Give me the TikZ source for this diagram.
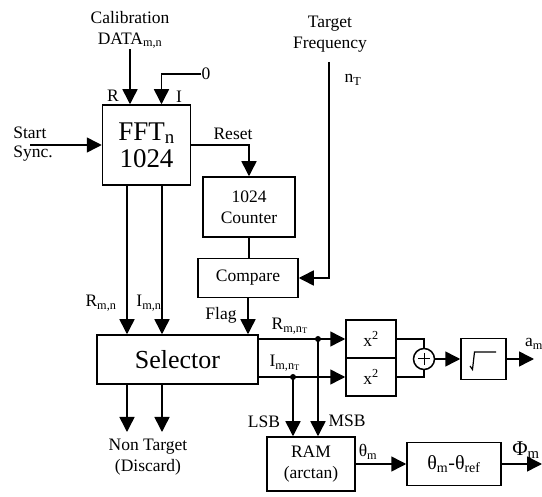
\documentclass[tikz,border=0pt]{standalone}
\usepackage{fontspec}
\setmainfont{Liberation Serif}
\usetikzlibrary{arrows.meta,calc}
\tikzset{
  blk/.style={draw, line width=1.5pt, inner sep=0pt, align=center, font=\fontsize{17.5}{21}\selectfont},
  lbl/.style={inner sep=0pt, align=center, font=\fontsize{17.5}{21}\selectfont},
  arr/.style={line width=1.5pt, -{Triangle[length=15pt,width=15pt]}},
  wire/.style={line width=1.5pt},
  dotc/.style={circle, fill, inner sep=0pt, minimum size=6pt}
}
\begin{document}
\begin{tikzpicture}[x=1pt,y=-1pt]
\useasboundingbox (0,0) rectangle (542,497);
% blocks
\node[blk, minimum width=88pt, minimum height=80pt, font=\fontsize{27}{27}\selectfont] (fft) at (146.5,145) {FFT\textsubscript{n}\\1024};
\node[blk, minimum width=92pt, minimum height=60pt] (counter) at (249,207) {1024\\Counter};
\node[blk, minimum width=100pt, minimum height=39pt] (compare) at (248,278) {Compare};
\node[blk, minimum width=161pt, minimum height=49pt, font=\fontsize{26}{26}\selectfont] (selector) at (177.5,359.5) {Selector};
\node[blk, minimum width=50pt, minimum height=38pt] (x2a) at (371,339) {x\textsuperscript{2}};
\node[blk, minimum width=50pt, minimum height=38pt] (x2b) at (371,377) {x\textsuperscript{2}};
\node[draw, circle, line width=1.5pt, minimum size=21pt, inner sep=0pt] (sum) at (424,359) {};
\node[blk, minimum width=45pt, minimum height=41pt] (sq) at (483.5,359) {};
\node[blk, minimum width=88pt, minimum height=54pt] (ram) at (311,464) {RAM\\(arctan)};
\node[blk, minimum width=94pt, minimum height=43pt, font=\fontsize{20}{22}\selectfont] (th) at (454,464) {θ\textsubscript{m}-θ\textsubscript{ref}};
% plus and sqrt symbols
\draw[line width=1pt] ($(sum.center)+(-6,0)$) -- ($(sum.center)+(6,0)$);
\draw[line width=1pt] ($(sum.center)+(0,-6)$) -- ($(sum.center)+(0,6)$);
\draw[line width=1.2pt] (470,366) -- (472.5,369.5) -- (474.5,352) -- (496,352);
% text labels
\node[lbl] (calib) at (130,30) {Calibration\\DATA\textsubscript{m,n}};
\node[lbl] (target) at (330,34) {Target\\Frequency};
\node[lbl] (zero) at (206,74) {0};
\node[lbl] at (113,96) {R};
\node[lbl] at (179,97) {I};
\node[lbl, align=left, font=\fontsize{17.5}{19}\selectfont] (start) at (33,144) {Start\\Sync.};
\node[lbl] at (233,134) {Reset};
\node[lbl] at (353,80) {n\textsubscript{T}};
\node[lbl] at (101,303) {R\textsubscript{m,n}};
\node[lbl] at (149,303) {I\textsubscript{m,n}};
\node[lbl] at (221,315) {Flag};
\node[lbl] at (290,326) {R\textsubscript{m,n\textsubscript{T}}};
\node[lbl] at (285,363) {I\textsubscript{m,n\textsubscript{T}}};
\node[lbl] at (264,422) {LSB};
\node[lbl] at (347,421) {MSB};
\node[lbl] at (368,452) {θ\textsubscript{m}};
\node[lbl] at (534,344) {a\textsubscript{m}};
\node[lbl, font=\fontsize{21}{21}\selectfont] at (526,450) {Φ\textsubscript{m}};
\node[lbl] (disc) at (148,457) {Non Target\\(Discard)};
% coordinates
\coordinate (ss) at (30,145);
\coordinate (tf) at (329,62);
\coordinate (d1) at (127,432);
\coordinate (d2) at (162,432);
\coordinate (dotR) at (318,339);
\coordinate (dotI) at (293,377);
\coordinate (amo) at (534,359);
\coordinate (phio) at (542,464);
% connectors
\draw[arr] (calib.south) -- (calib.south |- fft.north);
\draw[arr] (zero.west) -| ([xshift=15pt]fft.north);
\draw[arr] (ss) -- (fft.west);
\draw[arr] (fft.east) -| (counter.north);
\draw[wire] (counter.south) -- (counter.south |- compare.north);
\draw[arr] (tf) |- (compare.east);
\draw[arr] ([xshift=-19.5pt]fft.south) -- (d1 |- selector.north);
\draw[arr] ([xshift=15.5pt]fft.south) -- (d2 |- selector.north);
\draw[arr] (compare.south) -- (compare.south |- selector.north);
\draw[arr] (d1 |- selector.south) -- (d1);
\draw[arr] (d2 |- selector.south) -- (d2);
\draw[arr] (x2a.west -| selector.east) -- (x2a.west);
\draw[arr] (x2b.west -| selector.east) -- (x2b.west);
\node[dotc] at (dotR) {};
\node[dotc] at (dotI) {};
\draw[arr] (dotR) -- (dotR |- ram.north);
\draw[arr] (dotI) -- (dotI |- ram.north);
\draw[wire] (x2a.east) -| (sum.north);
\draw[wire] (x2b.east) -| (sum.south);
\draw[arr] (sum.east) -- (sq.west);
\draw[arr] (sq.east) -- (amo);
\draw[arr] (ram.east) -- (th.west);
\draw[arr] (th.east) -- (phio);
\end{tikzpicture}
\end{document}
